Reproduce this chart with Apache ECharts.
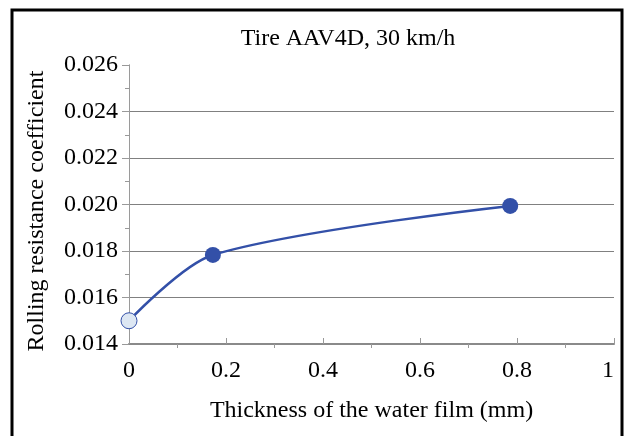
<!DOCTYPE html>
<html>
<head>
<meta charset="utf-8">
<script src="https://cdn.jsdelivr.net/npm/echarts@6/dist/echarts.min.js"></script>
<style>
  html, body { margin: 0; padding: 0; background: #fff; }
  #chart { width: 630px; height: 436px; }
</style>
</head>
<body>
<div id="chart"></div>
<script>
// data
const thickness = [0, 0.173, 0.786];
const rollingCoef = [0.0150, 0.01783, 0.01994];
const xTicks = [0, 0.2, 0.4, 0.6, 0.8, 1];
const yTicks = [0.014, 0.016, 0.018, 0.020, 0.022, 0.024, 0.026];

const font = "Liberation Serif";
const lineColor = "#3350a8";

const points = thickness.map((x, i) => {
  const p = { value: [x, rollingCoef[i]] };
  if (i === 0) {
    p.itemStyle = { color: "#dde7f3", borderColor: lineColor, borderWidth: 1 };
  }
  return p;
});

const chart = echarts.init(document.getElementById("chart"));
chart.setOption({
  animation: false,
  grid: { left: 129, right: 16, top: 65, bottom: 92 },
  graphic: [
    {
      type: "rect",
      shape: { x: 12, y: 10, width: 610, height: 440 },
      style: { fill: null, stroke: "#000", lineWidth: 3 },
    },
    {
      type: "text",
      x: 348,
      y: 39,
      style: {
        text: "Tire AAV4D, 30 km/h",
        font: "24px " + font,
        fill: "#000",
        align: "center",
        verticalAlign: "middle",
      },
    },
  ],
  xAxis: [
    {
      type: "value",
      min: xTicks[0],
      max: xTicks[xTicks.length - 1],
      interval: 0.2,
      name: "Thickness of the water film (mm)",
      nameLocation: "middle",
      nameGap: 55,
      nameTextStyle: { fontFamily: font, fontSize: 24, color: "#000" },
      axisLine: { lineStyle: { color: "#8a8a8a", width: 2 } },
      axisTick: { inside: true, length: 6, lineStyle: { color: "#999" } },
      axisLabel: {
        fontFamily: font,
        fontSize: 24,
        color: "#000",
        margin: 15,
        alignMaxLabel: "right",
        formatter: (v) => String(+v.toFixed(1)),
      },
      splitLine: { show: false },
    },
    {
      type: "value",
      position: "bottom",
      min: xTicks[0],
      max: xTicks[xTicks.length - 1],
      interval: 0.2,
      axisLine: { show: false },
      axisTick: { show: false, inside: false },
      minorTick: { show: true, splitNumber: 2, length: 4, lineStyle: { color: "#999" } },
      axisLabel: { show: false },
      splitLine: { show: false },
    },
  ],
  yAxis: [
    {
      type: "value",
      min: yTicks[0],
      max: yTicks[yTicks.length - 1],
      interval: 0.002,
      name: "Rolling resistance coefficient",
      nameLocation: "middle",
      nameGap: 80,
      nameTextStyle: { fontFamily: font, fontSize: 24, color: "#000", padding: [0, 13, 0, 0] },
      axisLine: { show: true, lineStyle: { color: "#9a9a9a", width: 1 } },
      axisTick: { show: true, length: 7, lineStyle: { color: "#999" } },
      minorTick: { show: true, splitNumber: 2, length: 4, lineStyle: { color: "#999" } },
      axisLabel: {
        fontFamily: font,
        fontSize: 24,
        color: "#000",
        margin: 11,
        formatter: (v) => v.toFixed(3),
      },
      splitLine: {
        show: true,
        showMaxLine: false,
        lineStyle: { color: "#808080", width: 1 },
      },
    },
    {
      type: "value",
      position: "right",
      min: yTicks[0],
      max: yTicks[yTicks.length - 1],
      interval: 0.002,
      axisLine: { show: true, lineStyle: { color: "#9a9a9a", width: 1 } },
      axisTick: { show: false },
      axisLabel: { show: false },
      splitLine: { show: false },
    },
  ],
  series: [
    {
      type: "line",
      data: points,
      smooth: 0.3,
      symbol: "circle",
      symbolSize: 16,
      lineStyle: { color: lineColor, width: 2.5 },
      itemStyle: { color: lineColor },
    },
  ],
});
</script>
</body>
</html>
